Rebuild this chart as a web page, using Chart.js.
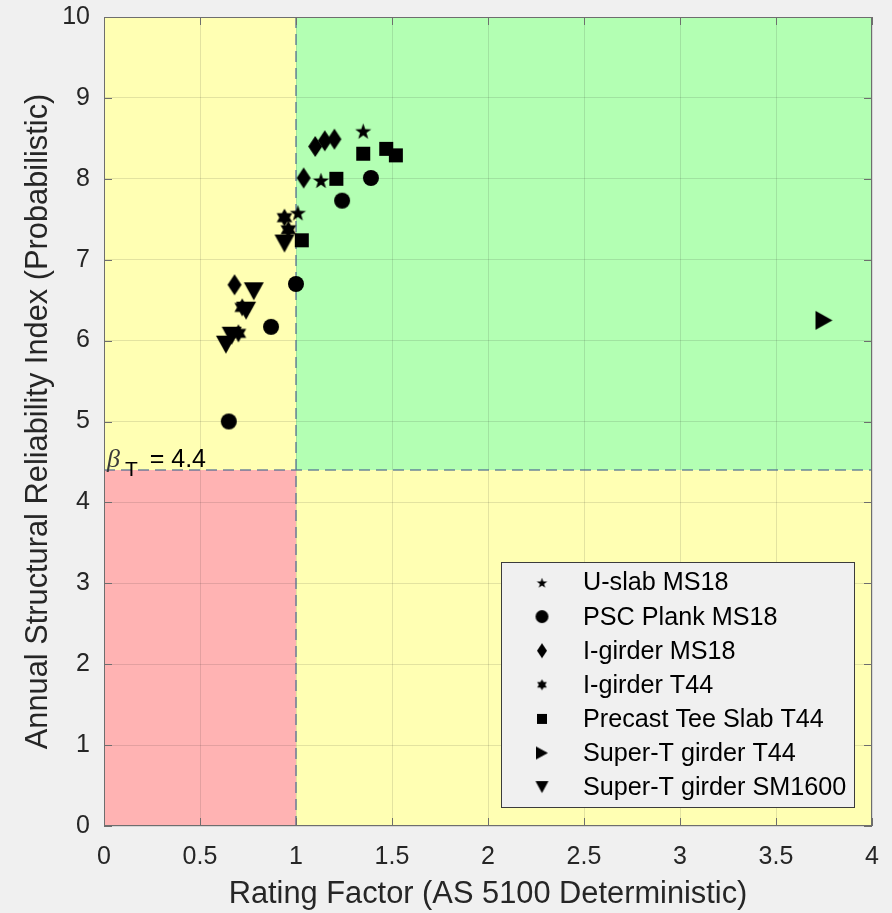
<!DOCTYPE html>
<html>
<head>
<meta charset="utf-8">
<script src="https://cdn.jsdelivr.net/npm/chart.js@4.4.1/dist/chart.umd.min.js"></script>
<style>
  html, body { margin: 0; padding: 0; background: #f0f0f0; }
  #wrap { width: 892px; height: 913px; }
</style>
</head>
<body>
<div id="wrap"><canvas id="chart" width="892" height="913"></canvas></div>
<script>
// Bridge types and their (rating factor, reliability index) results
const seriesNames = [
  'U-slab MS18',
  'PSC Plank MS18',
  'I-girder MS18',
  'I-girder T44',
  'Precast Tee Slab T44',
  'Super-T girder T44',
  'Super-T girder SM1600'
];
const uSlabMS18 = [[1.35, 8.59], [1.13, 7.98], [1.01, 7.58]];
const pscPlankMS18 = [[1.39, 8.01], [1.24, 7.73], [1.00, 6.70], [0.87, 6.17], [0.65, 5.00]];
const iGirderMS18 = [[1.10, 8.40], [1.15, 8.47], [1.20, 8.49], [1.04, 8.01], [0.68, 6.69]];
const iGirderT44 = [[0.94, 7.52], [0.96, 7.37], [0.72, 6.41], [0.70, 6.09]];
const precastTeeSlabT44 = [[1.35, 8.31], [1.47, 8.37], [1.52, 8.29], [1.21, 8.00], [1.03, 7.24]];
const superTT44 = [[3.75, 6.25]];
const superTSM1600 = [[0.94, 7.20], [0.78, 6.61], [0.74, 6.37], [0.665, 6.06], [0.635, 5.95]];

const xTicks = [0, 0.5, 1, 1.5, 2, 2.5, 3, 3.5, 4];
const yTicks = [0, 1, 2, 3, 4, 5, 6, 7, 8, 9, 10];

// Target reliability and rating-factor threshold
const betaTarget = 4.4;
const rfLimit = 1;

const FONT = '"Liberation Sans", Arial, sans-serif';
const TEXT = '#262626';
const BOX = '#6e6e6e';

// Filled black marker drawn onto a small canvas, used as a point style
function marker(shape, w, h) {
  const pad = 2;
  const c = document.createElement('canvas');
  c.width = Math.ceil(w + 2 * pad);
  c.height = Math.ceil(h + 2 * pad);
  const g = c.getContext('2d');
  const cx = c.width / 2, cy = c.height / 2;
  g.fillStyle = '#000';
  g.beginPath();
  if (shape === 'circle') {
    g.ellipse(cx, cy, w / 2, h / 2, 0, 0, Math.PI * 2);
  } else if (shape === 'square') {
    g.rect(cx - w / 2, cy - h / 2, w, h);
  } else if (shape === 'diamond') {
    g.moveTo(cx, cy - h / 2); g.lineTo(cx + w / 2, cy);
    g.lineTo(cx, cy + h / 2); g.lineTo(cx - w / 2, cy);
  } else if (shape === 'star5') {
    const R = w / 2, r = R * 0.4;
    for (let i = 0; i < 10; i++) {
      const a = -Math.PI / 2 + i * Math.PI / 5;
      const rad = i % 2 ? r : R;
      const px = cx + rad * Math.cos(a), py = cy + 0.8 + rad * Math.sin(a);
      i ? g.lineTo(px, py) : g.moveTo(px, py);
    }
  } else if (shape === 'star6') {
    const R = w / 2, r = R / Math.sqrt(3);
    for (let i = 0; i < 12; i++) {
      const a = -Math.PI / 2 + i * Math.PI / 6;
      const rad = i % 2 ? r : R;
      const px = cx + rad * Math.cos(a), py = cy + rad * Math.sin(a);
      i ? g.lineTo(px, py) : g.moveTo(px, py);
    }
  } else if (shape === 'triDown') {
    g.moveTo(cx - w / 2, cy - h / 2); g.lineTo(cx + w / 2, cy - h / 2); g.lineTo(cx, cy + h / 2);
  } else if (shape === 'triRight') {
    g.moveTo(cx - w / 2, cy - h / 2); g.lineTo(cx + w / 2, cy); g.lineTo(cx - w / 2, cy + h / 2);
  }
  g.closePath();
  g.fill();
  return c;
}

const plotMarkers = [
  marker('star5', 17, 17),
  marker('circle', 16, 16),
  marker('diamond', 14, 21),
  marker('star6', 18, 18),
  marker('square', 14, 14),
  marker('triRight', 17, 19),
  marker('triDown', 20, 18)
];
const legendMarkers = [
  marker('star5', 11, 11),
  marker('circle', 13, 13),
  marker('diamond', 10, 15),
  marker('star6', 11, 11),
  marker('square', 10, 10),
  marker('triRight', 12, 13),
  marker('triDown', 13, 12)
];

const seriesData = [uSlabMS18, pscPlankMS18, iGirderMS18, iGirderT44, precastTeeSlabT44, superTT44, superTSM1600];

const datasets = seriesData.map((pts, i) => ({
  label: seriesNames[i],
  data: pts.map(([x, y]) => ({ x, y })),
  pointStyle: plotMarkers[i],
  pointRadius: 8,
  pointHoverRadius: 8,
  showLine: false
}));

// Coloured assessment zones, threshold lines and the beta_T annotation
const zonesPlugin = {
  id: 'zones',
  beforeDraw(chart) {
    const { ctx, chartArea: a, scales: { x, y } } = chart;
    const xr = x.getPixelForValue(rfLimit);
    const yb = y.getPixelForValue(betaTarget);
    ctx.save();
    ctx.fillStyle = '#ffffb3';
    ctx.fillRect(a.left, a.top, a.right - a.left, a.bottom - a.top);
    ctx.fillStyle = '#b3ffb3';
    ctx.fillRect(xr, a.top, a.right - xr, yb - a.top);
    ctx.fillStyle = '#ffb3b3';
    ctx.fillRect(a.left, yb, xr - a.left, a.bottom - yb);
    ctx.restore();
  },
  beforeDatasetsDraw(chart) {
    const { ctx, chartArea: a, scales: { x, y } } = chart;
    const xr = x.getPixelForValue(rfLimit);
    const yb = y.getPixelForValue(betaTarget);
    ctx.save();
    ctx.strokeStyle = 'rgba(75,105,145,0.8)';
    ctx.lineWidth = 1.5;
    ctx.setLineDash([11, 6]);
    ctx.beginPath();
    ctx.moveTo(xr, a.top); ctx.lineTo(xr, a.bottom);
    ctx.moveTo(a.left, yb); ctx.lineTo(a.right, yb);
    ctx.stroke();
    ctx.setLineDash([]);

    // beta_T = 4.4 label sitting on the horizontal line
    const lx = x.getPixelForValue(0) + 3;
    const ly = yb - 3;
    ctx.textBaseline = 'alphabetic';
    ctx.textAlign = 'left';
    ctx.font = 'italic 26px "Liberation Serif", "DejaVu Serif", serif';
    ctx.fillStyle = '#3a3a3a';
    ctx.fillText('\u03B2', lx, ly);
    const bw = ctx.measureText('\u03B2').width;
    ctx.fillStyle = '#000';
    ctx.font = '21px ' + FONT;
    ctx.fillText('T', lx + bw + 5, ly + 9);
    const tw = ctx.measureText('T').width;
    ctx.font = '25px ' + FONT;
    ctx.fillText(' = ' + betaTarget, lx + bw + 5 + tw + 5, ly);
    ctx.restore();
  },
  afterDraw(chart) {
    const { ctx, chartArea: a, scales: { x, y } } = chart;
    ctx.save();
    // axes box with inward tick marks on all four sides
    ctx.strokeStyle = BOX;
    ctx.lineWidth = 1;
    ctx.strokeRect(a.left + 0.5, a.top + 0.5, a.right - a.left - 1, a.bottom - a.top - 1);
    const tl = 8;
    ctx.beginPath();
    xTicks.forEach(v => {
      const px = Math.round(x.getPixelForValue(v)) + 0.5;
      ctx.moveTo(px, a.bottom); ctx.lineTo(px, a.bottom - tl);
      ctx.moveTo(px, a.top); ctx.lineTo(px, a.top + tl);
    });
    yTicks.forEach(v => {
      const py = Math.round(y.getPixelForValue(v)) + 0.5;
      ctx.moveTo(a.left, py); ctx.lineTo(a.left + tl, py);
      ctx.moveTo(a.right, py); ctx.lineTo(a.right - tl, py);
    });
    ctx.stroke();

    // legend box in the lower-right corner of the axes
    const L = 501, T = 562, W = 354, H = 246;
    ctx.fillStyle = '#f0f0f0';
    ctx.fillRect(L, T, W, H);
    ctx.strokeStyle = '#3c3c3c';
    ctx.strokeRect(L + 0.5, T + 0.5, W - 1, H - 1);
    ctx.font = '25.2px ' + FONT;
    ctx.fillStyle = '#000';
    ctx.textAlign = 'left';
    ctx.textBaseline = 'middle';
    const row0 = T + 20.5, step = 34.1;
    chart.data.datasets.forEach((ds, i) => {
      const cy = row0 + i * step;
      const m = legendMarkers[i];
      ctx.drawImage(m, 542 - m.width / 2, cy - m.height / 2);
      ctx.fillText(ds.label, 583, cy + 1);
    });
    ctx.restore();
  }
};

// Keep the plot frame exactly where the layout padding puts it
function noOverflowPadding(s) {
  s.paddingTop = 0; s.paddingBottom = 0; s.paddingLeft = 0; s.paddingRight = 0;
}

new Chart(document.getElementById('chart'), {
  type: 'scatter',
  data: { datasets },
  options: {
    responsive: false,
    animation: false,
    devicePixelRatio: 1,
    layout: { padding: { left: 20, top: 17, right: 20, bottom: 0 } },
    plugins: {
      legend: { display: false },
      tooltip: { enabled: false }
    },
    scales: {
      x: {
        type: 'linear',
        min: 0,
        max: 4,
        afterBuildTicks: s => { s.ticks = xTicks.map(v => ({ value: v })); },
        afterFit: s => { s.height = 87; noOverflowPadding(s); },
        border: { display: false },
        grid: { color: 'rgba(38,38,38,0.13)', drawTicks: false },
        ticks: {
          color: TEXT, padding: 16, maxRotation: 0,
          font: { family: FONT, size: 25 },
          callback: v => String(v)
        },
        title: {
          display: true,
          text: 'Rating Factor (AS 5100 Deterministic)',
          color: TEXT,
          padding: 0,
          font: { family: FONT, size: 30.8 }
        }
      },
      y: {
        type: 'linear',
        min: 0,
        max: 10,
        afterBuildTicks: s => { s.ticks = yTicks.map(v => ({ value: v })); },
        afterFit: s => { s.width = 84; noOverflowPadding(s); },
        border: { display: false },
        grid: { color: 'rgba(38,38,38,0.13)', drawTicks: false },
        ticks: {
          color: TEXT, padding: 14,
          font: { family: FONT, size: 25 },
          callback: v => String(v)
        },
        title: {
          display: true,
          text: 'Annual Structural Reliability Index (Probabilistic)',
          color: TEXT,
          padding: 0,
          font: { family: FONT, size: 30.8 }
        }
      }
    }
  },
  plugins: [zonesPlugin]
});
</script>
</body>
</html>
